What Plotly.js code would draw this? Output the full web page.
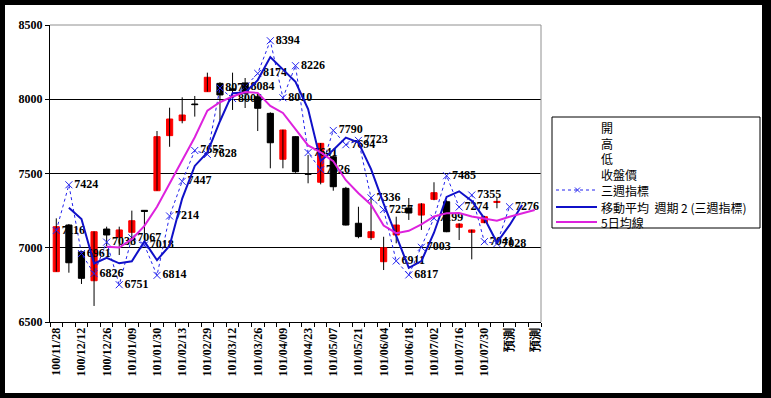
<!DOCTYPE html>
<html><head><meta charset="utf-8">
<script src="https://cdn.plot.ly/plotly-3.0.1.min.js"></script>
<style>
html,body{margin:0;padding:0;background:#000;width:771px;height:398px;overflow:hidden;}
#chart{position:absolute;left:5px;top:5px;width:757px;height:388px;background:#fff;}
</style></head><body><div id="chart"></div>
<script>
// tick labels shown on the category axis (every second week)
const tickLabels = ['100/11/28','100/12/12','100/12/26','101/01/09','101/01/30','101/02/13','101/02/29','101/03/12','101/03/26','101/04/09','101/04/23','101/05/07','101/05/21','101/06/04','101/06/18','101/07/02','101/07/16','101/07/30','預測','預測'];
const nCategories = 39;

// weekly OHLC (開 高 低 收盤價)
const openP  = [6839,7153,6973,6778,7126,7070,7104,7252,7384,7755,7856,7968,8051,8107,8070,8110,8017,7905,7596,7748,7500,7441,7613,7400,7165,7068,6906,7086,7268,7220,7326,7310,7138,7104,7169,7305];
const highP  = [7198,7160,6980,7110,7142,7142,7250,7254,7786,7943,8013,8022,8179,8115,8179,8143,8040,7912,7795,7750,7625,7705,7620,7410,7276,7344,7074,7209,7335,7300,7441,7320,7165,7122,7215,7337];
const lowP   = [6839,6832,6756,6608,7010,6951,7064,7050,7384,7680,7838,7883,8051,7860,7928,7941,7786,7535,7535,7505,7434,7427,7384,7150,7064,7052,6850,7030,7187,7120,7320,7105,7052,6922,7165,7266];
const closeP = [7142,6899,6794,7108,7086,7120,7182,7245,7748,7867,7894,7964,8148,8029,8060,8040,7939,7707,7793,7512,7495,7703,7411,7153,7075,7108,7000,7153,7234,7295,7371,7108,7160,7120,7209,7312];

// 三週指標
const threeWeek = [7116,7424,6961,6826,7038,6751,7067,7018,6814,7214,7447,7655,7628,8076,8005,8084,8174,8394,8010,8226,7641,7526,7790,7694,7723,7336,7257,6911,6817,7003,7199,7485,7274,7355,7041,7028,7276];

// 移動平均 週期 2 (三週指標)
const ma2 = [null,7270,7193,6894,6932,6895,6909,7043,6916,7014,7331,7551,7642,7852,8041,8045,8129,8284,8202,8118,7934,7584,7658,7742,7709,7530,7297,7084,6864,6910,7101,7342,7380,7315,7198,7035,7152,7288];

// 5日均線
const ma5 = [null,null,null,null,7006,7001,7058,7147,7276,7432,7587,7744,7923,7980,8019,8048,8043,7955,7908,7798,7689,7642,7583,7455,7367,7290,7149,7098,7114,7158,7211,7232,7234,7211,7194,7182,7209,7234,7254];

const legendNames = ['開','高','低','收盤價','三週指標','移動平均  週期 2 (三週指標)','5日均線'];

const idx = a => a.map((_, i) => i);
const numFont = {family: 'Liberation Serif, Times New Roman, serif', size: 12, color: '#000', weight: 'bold'};

// high-low wicks
const wx = [], wy = [];
highP.forEach((h, i) => { wx.push(i, i, null); wy.push(lowP[i], h, null); });

const traces = [
  {type: 'scatter', mode: 'lines', x: wx, y: wy, line: {color: '#000', width: 1}, showlegend: false, hoverinfo: 'skip'},
  {type: 'candlestick', x: idx(openP), open: openP, close: closeP,
   high: openP.map((o, i) => Math.max(o, closeP[i])), low: openP.map((o, i) => Math.min(o, closeP[i])),
   increasing: {line: {color: '#ff0000', width: 1}, fillcolor: '#ff0000'},
   decreasing: {line: {color: '#000000', width: 1}, fillcolor: '#000000'},
   showlegend: false, hoverinfo: 'skip'},
  {type: 'scatter', mode: 'lines+markers+text', x: idx(threeWeek), y: threeWeek,
   text: threeWeek.map(String), textposition: 'middle right', textfont: numFont, cliponaxis: false,
   line: {color: '#2222ee', width: 1, dash: 'dot'},
   marker: {symbol: 'x-thin-open', size: 7, line: {color: '#2222ee', width: 1}}, showlegend: false},
  {type: 'scatter', mode: 'lines', x: idx(ma2), y: ma2, line: {color: '#1010c8', width: 2}, showlegend: false},
  {type: 'scatter', mode: 'lines', x: idx(ma5), y: ma5, line: {color: '#dd22dd', width: 2}, showlegend: false}
];

// manual legend geometry (div pixel coords -> paper)
const L = 45, T = 20, W = 491, H = 297;
const px = x => (x - L) / W, py = y => (T + H - y) / H;
const legRowY = [123, 138, 154, 170, 185, 202, 217];
const shapes = [
  {type: 'line', xref: 'paper', yref: 'paper', x0: 0, x1: 1, y0: 1, y1: 1, line: {color: '#909090', width: 1}},
  {type: 'line', xref: 'paper', yref: 'paper', x0: 1, x1: 1, y0: 0, y1: 1, line: {color: '#909090', width: 1}},
  {type: 'rect', xref: 'paper', yref: 'paper', x0: px(547), x1: px(755), y0: py(112), y1: py(223), line: {color: '#000', width: 1}, fillcolor: 'rgba(0,0,0,0)'},
  {type: 'line', xref: 'paper', yref: 'paper', x0: px(551), x1: px(592), y0: py(legRowY[4]), y1: py(legRowY[4]), line: {color: '#2222ee', width: 1, dash: 'dot'}},
  {type: 'line', xref: 'paper', yref: 'paper', x0: px(570), x1: px(575), y0: py(legRowY[4] - 2.5), y1: py(legRowY[4] + 2.5), line: {color: '#2222ee', width: 1}},
  {type: 'line', xref: 'paper', yref: 'paper', x0: px(570), x1: px(575), y0: py(legRowY[4] + 2.5), y1: py(legRowY[4] - 2.5), line: {color: '#2222ee', width: 1}},
  {type: 'line', xref: 'paper', yref: 'paper', x0: px(551), x1: px(592), y0: py(legRowY[5]), y1: py(legRowY[5]), line: {color: '#1010c8', width: 2}},
  {type: 'line', xref: 'paper', yref: 'paper', x0: px(551), x1: px(592), y0: py(legRowY[6]), y1: py(legRowY[6]), line: {color: '#dd22dd', width: 2}}
];
const annotations = legendNames.map((n, k) => ({
  xref: 'paper', yref: 'paper', x: px(594), y: py(legRowY[k]), xanchor: 'left', yanchor: 'middle',
  text: n, showarrow: false, font: {family: 'Noto Sans CJK TC', size: 12, color: '#000'}
}));

const layout = {
  width: 757, height: 388,
  margin: {l: L, r: 757 - L - W, t: T, b: 388 - T - H, pad: 0},
  paper_bgcolor: '#fff', plot_bgcolor: '#fff',
  showlegend: false, hovermode: false,
  xaxis: {
    type: 'linear', range: [-0.5, nCategories - 0.5], rangeslider: {visible: false},
    tickmode: 'array', tickvals: tickLabels.map((_, k) => 2 * k), ticktext: tickLabels,
    tickangle: -90, tickfont: numFont, ticks: '', showgrid: false, zeroline: false,
    showline: true, linecolor: '#000', linewidth: 1,
    minor: {tickmode: 'linear', tick0: -0.5, dtick: 1, ticks: 'outside', ticklen: 4, tickcolor: '#000', showgrid: false}
  },
  yaxis: {
    range: [6500, 8500], tickmode: 'linear', tick0: 6500, dtick: 500,
    tickfont: numFont, ticks: 'outside', ticklen: 4, tickcolor: '#000',
    showgrid: true, gridcolor: '#000', gridwidth: 1, zeroline: false,
    showline: true, linecolor: '#000', linewidth: 1
  },
  shapes: shapes, annotations: annotations
};

Plotly.newPlot('chart', traces, layout, {staticPlot: true, displayModeBar: false});
</script></body></html>
